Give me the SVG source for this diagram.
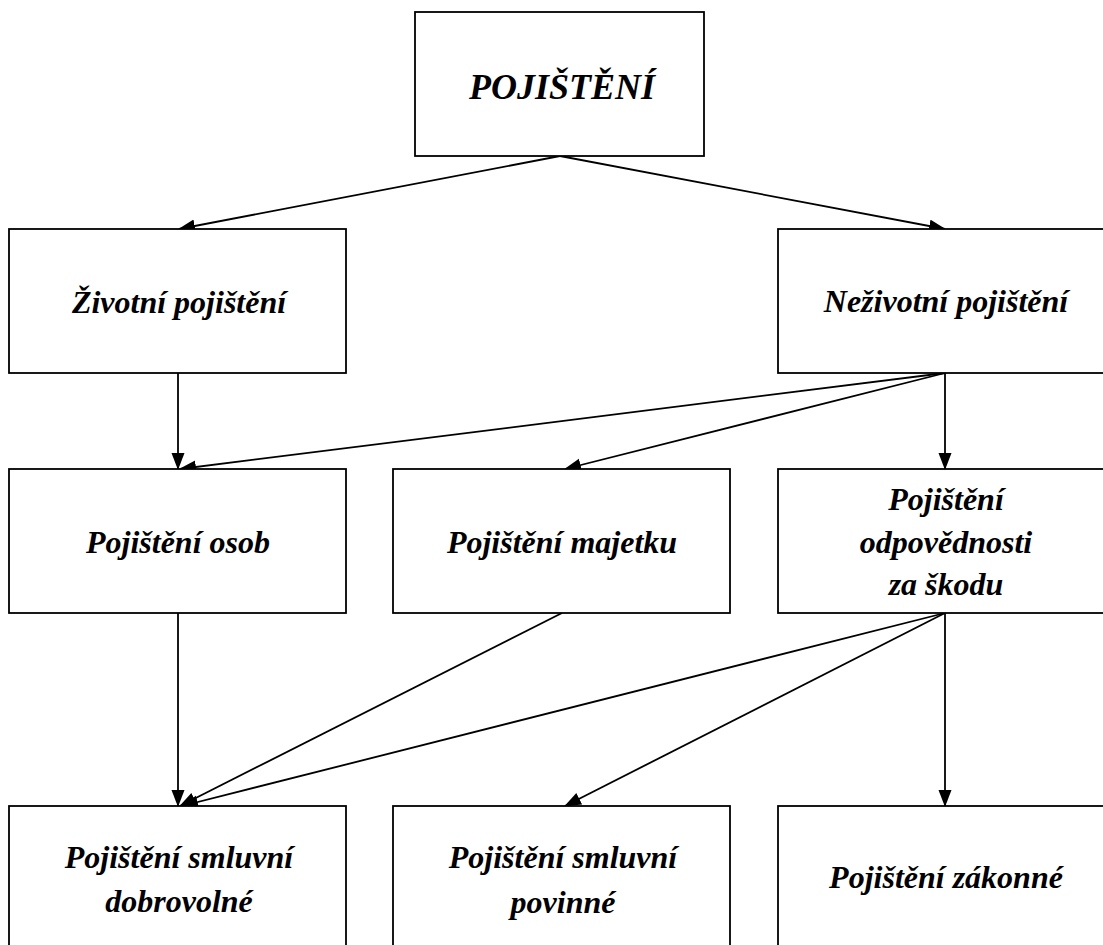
<svg xmlns="http://www.w3.org/2000/svg" width="1103" height="945" viewBox="0 0 1103 945">
<defs>
<style>
.box{fill:#fff;stroke:#000;stroke-width:1.8}
.lbl{font-family:"Liberation Serif","Times New Roman",serif;font-style:italic;font-weight:bold;font-size:32px;fill:#000;text-anchor:middle}
.big{font-size:36px}
.con line{stroke:#000;stroke-width:1.8;marker-end:url(#ah)}
</style>
<marker id="ah" markerUnits="userSpaceOnUse" markerWidth="18" markerHeight="14" refX="16" refY="6.5" orient="auto">
<path d="M0,0 L17,6.5 L0,13 Z" fill="#000"/>
</marker>
</defs>
<rect width="1103" height="945" fill="#fff"/>
<g id="connectors" class="con">
<line x1="560" y1="156" x2="179" y2="229"/>
<line x1="560" y1="156" x2="945" y2="229"/>
<line x1="178" y1="373" x2="178" y2="469"/>
<line x1="945" y1="373" x2="180" y2="469"/>
<line x1="945" y1="373" x2="565" y2="469"/>
<line x1="945" y1="373" x2="945" y2="469"/>
<line x1="178" y1="613" x2="178" y2="806"/>
<line x1="562" y1="613" x2="180" y2="806"/>
<line x1="945" y1="613" x2="182" y2="806"/>
<line x1="945" y1="613" x2="565" y2="806"/>
<line x1="945" y1="613" x2="945" y2="806"/>
</g>
<g id="pojisteni">
<rect class="box" x="415" y="12" width="289" height="144"/>
<text class="lbl big" x="562" y="99">POJIŠTĚNÍ</text>
</g>
<g id="zivotni">
<rect class="box" x="9" y="229" width="337" height="144"/>
<text class="lbl" x="179" y="313">Životní pojištění</text>
</g>
<g id="nezivotni">
<rect class="box" x="778" y="229" width="340" height="144"/>
<text class="lbl" x="946" y="312">Neživotní pojištění</text>
</g>
<g id="osob">
<rect class="box" x="9" y="469" width="337" height="144"/>
<text class="lbl" x="178" y="553">Pojištění osob</text>
</g>
<g id="majetku">
<rect class="box" x="393" y="469" width="337" height="144"/>
<text class="lbl" x="562" y="553">Pojištění majetku</text>
</g>
<g id="odpovednosti">
<rect class="box" x="778" y="469" width="340" height="144"/>
<text class="lbl" x="946" y="510">Pojištění</text>
<text class="lbl" x="946" y="553">odpovědnosti</text>
<text class="lbl" x="946" y="595">za škodu</text>
</g>
<g id="dobrovolne">
<rect class="box" x="9" y="806" width="337" height="160"/>
<text class="lbl" x="179" y="868">Pojištění smluvní</text>
<text class="lbl" x="179" y="912">dobrovolné</text>
</g>
<g id="povinne">
<rect class="box" x="393" y="806" width="337" height="160"/>
<text class="lbl" x="563" y="868">Pojištění smluvní</text>
<text class="lbl" x="563" y="913">povinné</text>
</g>
<g id="zakonne">
<rect class="box" x="778" y="806" width="340" height="160"/>
<text class="lbl" x="946" y="888">Pojištění zákonné</text>
</g>
</svg>
